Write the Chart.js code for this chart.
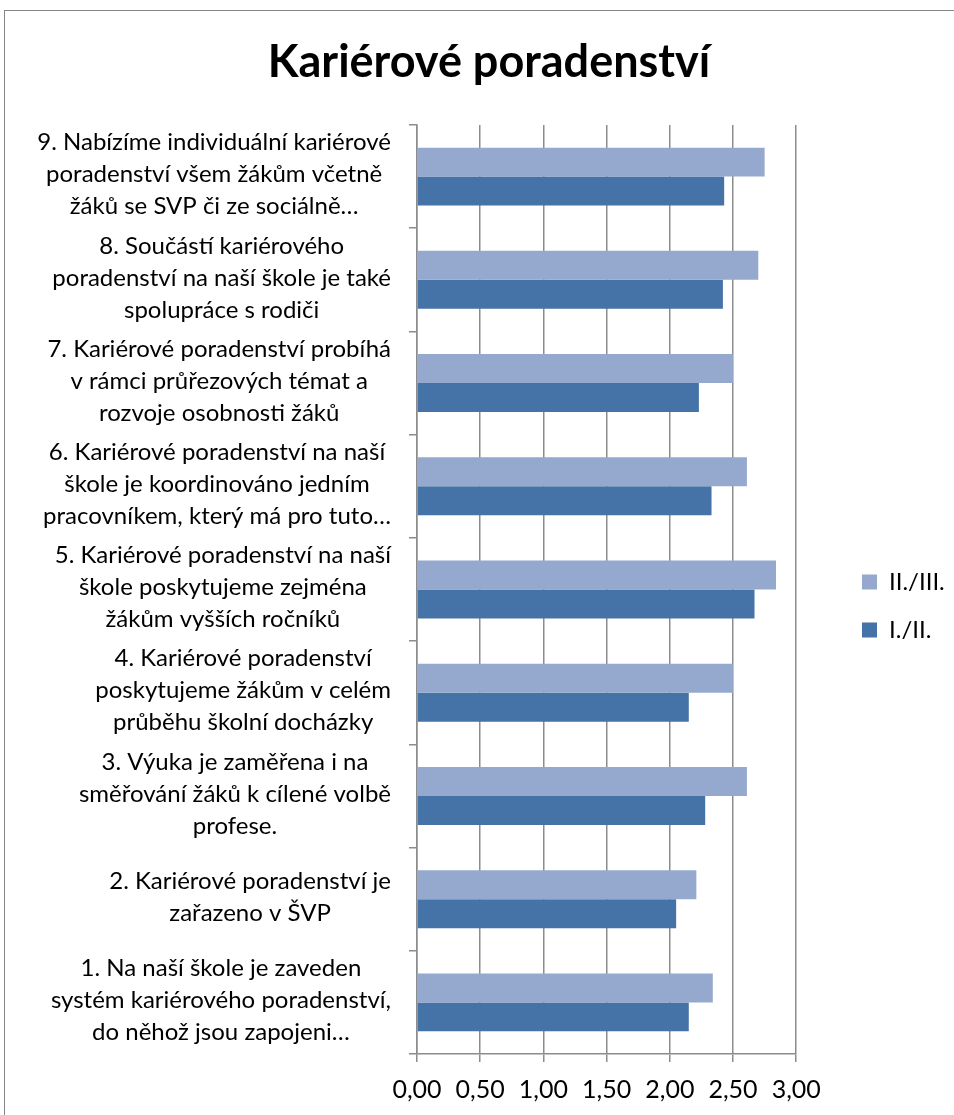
<!DOCTYPE html>
<html>
<head>
<meta charset="utf-8">
<script src="https://cdn.jsdelivr.net/npm/chart.js@4.4.1/dist/chart.umd.min.js"></script>
<style>
  html, body { margin: 0; padding: 0; background: #ffffff; }
  #wrap { position: relative; width: 954px; height: 1115px; }
</style>
</head>
<body>
<div id="wrap"><canvas id="c" width="954" height="1115"></canvas></div>
<script>
// ---------- data ----------
const chartTitle = 'Kariérové poradenství';
const categories = [
  ['9. Nabízíme individuální kariérové', 'poradenství všem žákům včetně', 'žáků se SVP či ze sociálně…'],
  ['8. Součástí kariérového', 'poradenství na naší škole je také', 'spolupráce s rodiči'],
  ['7. Kariérové poradenství probíhá', 'v rámci průřezových témat a', 'rozvoje osobnosti žáků'],
  ['6. Kariérové poradenství na naší', 'škole je koordinováno jedním', 'pracovníkem, který má pro tuto…'],
  ['5. Kariérové poradenství na naší', 'škole poskytujeme zejména', 'žákům vyšších ročníků'],
  ['4. Kariérové poradenství', 'poskytujeme žákům v celém', 'průběhu školní docházky'],
  ['3. Výuka je zaměřena i na', 'směřování žáků k cílené volbě', 'profese.'],
  ['2. Kariérové poradenství je', 'zařazeno v ŠVP'],
  ['1. Na naší škole je zaveden', 'systém kariérového poradenství,', 'do něhož jsou zapojeni…']
];
const seriesNames = ['II./III.', 'I./II.'];
const valuesII_III = [2.75, 2.70, 2.50, 2.61, 2.84, 2.50, 2.61, 2.21, 2.34];
const valuesI_II   = [2.43, 2.42, 2.23, 2.33, 2.67, 2.15, 2.28, 2.05, 2.15];
const xTickLabels  = ['0,00', '0,50', '1,00', '1,50', '2,00', '2,50', '3,00'];

// ---------- style ----------
const FONT = "Lato, 'Open Sans', sans-serif";
const LABEL_SIZE = 24;
const GRID = '#8c8c8c';
const PAD_L = 65, PAD_R = 41;
const X_TICK_LEN = 8, X_TICK_PAD = 13, X_TICK_SIZE = 25;

const borderPlugin = {
  id: 'outerBorder',
  beforeDraw(chart) {
    const ctx = chart.ctx;
    ctx.save();
    ctx.strokeStyle = '#868686';
    ctx.lineWidth = 1;
    ctx.strokeRect(4.5, 10.5, 1200, 1300);
    ctx.restore();
  }
};

const legendShift = {
  id: 'legendShift',
  afterLayout(chart, args, opts) {
    const lg = chart.legend;
    if (!lg || !lg.columnSizes || !lg.columnSizes.length) return;
    const pad = lg.options.labels.padding;
    const fs = lg.options.labels.font.size;
    const curX = lg.left + pad;
    const curY = (lg.top + pad + lg.bottom - lg.columnSizes[0].height) / 2 + fs / 2;
    const dx = opts.boxX - curX, dy = opts.firstY - curY;
    lg.left += dx; lg.right += dx; lg.top += dy; lg.bottom += dy;
  }
};

const yLabels = {
  id: 'yLabels',
  afterDraw(chart, args, opts) {
    const ctx = chart.ctx;
    const ys = chart.scales.y;
    ctx.save();
    ctx.font = LABEL_SIZE + 'px ' + FONT;
    ctx.fillStyle = '#000';
    ctx.textAlign = 'center';
    ctx.textBaseline = 'middle';
    chart.data.labels.forEach((lines, i) => {
      const y = ys.getPixelForTick(i) + opts.dy;
      const w = Math.max(...lines.map(l => ctx.measureText(l).width));
      const cx = opts.right - w / 2;
      const y0 = y - (lines.length - 1) * opts.lineHeight / 2;
      lines.forEach((l, k) => ctx.fillText(l, cx, y0 + k * opts.lineHeight));
    });
    ctx.restore();
  }
};

new Chart(document.getElementById('c'), {
  type: 'bar',
  data: {
    labels: categories,
    datasets: [
      { label: seriesNames[0], data: valuesII_III, backgroundColor: '#95A9CF', borderWidth: 0 },
      { label: seriesNames[1], data: valuesI_II, backgroundColor: '#4572A7', borderWidth: 0 }
    ]
  },
  options: {
    indexAxis: 'y',
    responsive: false,
    animation: false,
    devicePixelRatio: 1,
    categoryPercentage: 0.5615,
    barPercentage: 1.0,
    layout: { padding: { top: 0, left: PAD_L, right: PAD_R, bottom: 10 } },
    plugins: {
      title: {
        display: true,
        text: chartTitle,
        color: '#000',
        font: { family: FONT, size: 45, weight: 'bold' },
        padding: { top: 35, bottom: 36 }
      },
      legend: {
        position: 'right',
        fullSize: false,
        labels: {
          boxWidth: 15, boxHeight: 15, padding: 24, color: '#000',
          font: { family: FONT, size: 24 }
        }
      },
      tooltip: { enabled: false },
      legendShift: { boxX: 862, firstY: 582 },
      yLabels: { right: 391, lineHeight: 32, dy: -2 }
    },
    scales: {
      x: {
        type: 'linear',
        min: 0, max: 3,
        ticks: {
          stepSize: 0.5,
          color: '#000',
          padding: X_TICK_PAD,
          font: { family: FONT, size: X_TICK_SIZE },
          callback: (v, i) => xTickLabels[i]
        },
        grid: { color: GRID, lineWidth: 1.5, tickLength: X_TICK_LEN, drawTicks: true },
        border: { color: GRID, width: 1.5 },
        afterFit: (s) => { s.height = X_TICK_LEN + X_TICK_PAD + X_TICK_SIZE * 1.2; }
      },
      y: {
        type: 'category',
        ticks: { display: false },
        grid: { offset: true, drawOnChartArea: false, drawTicks: true, tickLength: 8, color: GRID, lineWidth: 1.5 },
        border: { color: GRID, width: 1.5 },
        afterFit: (s) => { s.width = 417 - PAD_L; }
      }
    }
  },
  plugins: [borderPlugin, legendShift, yLabels]
});
</script>
</body>
</html>
